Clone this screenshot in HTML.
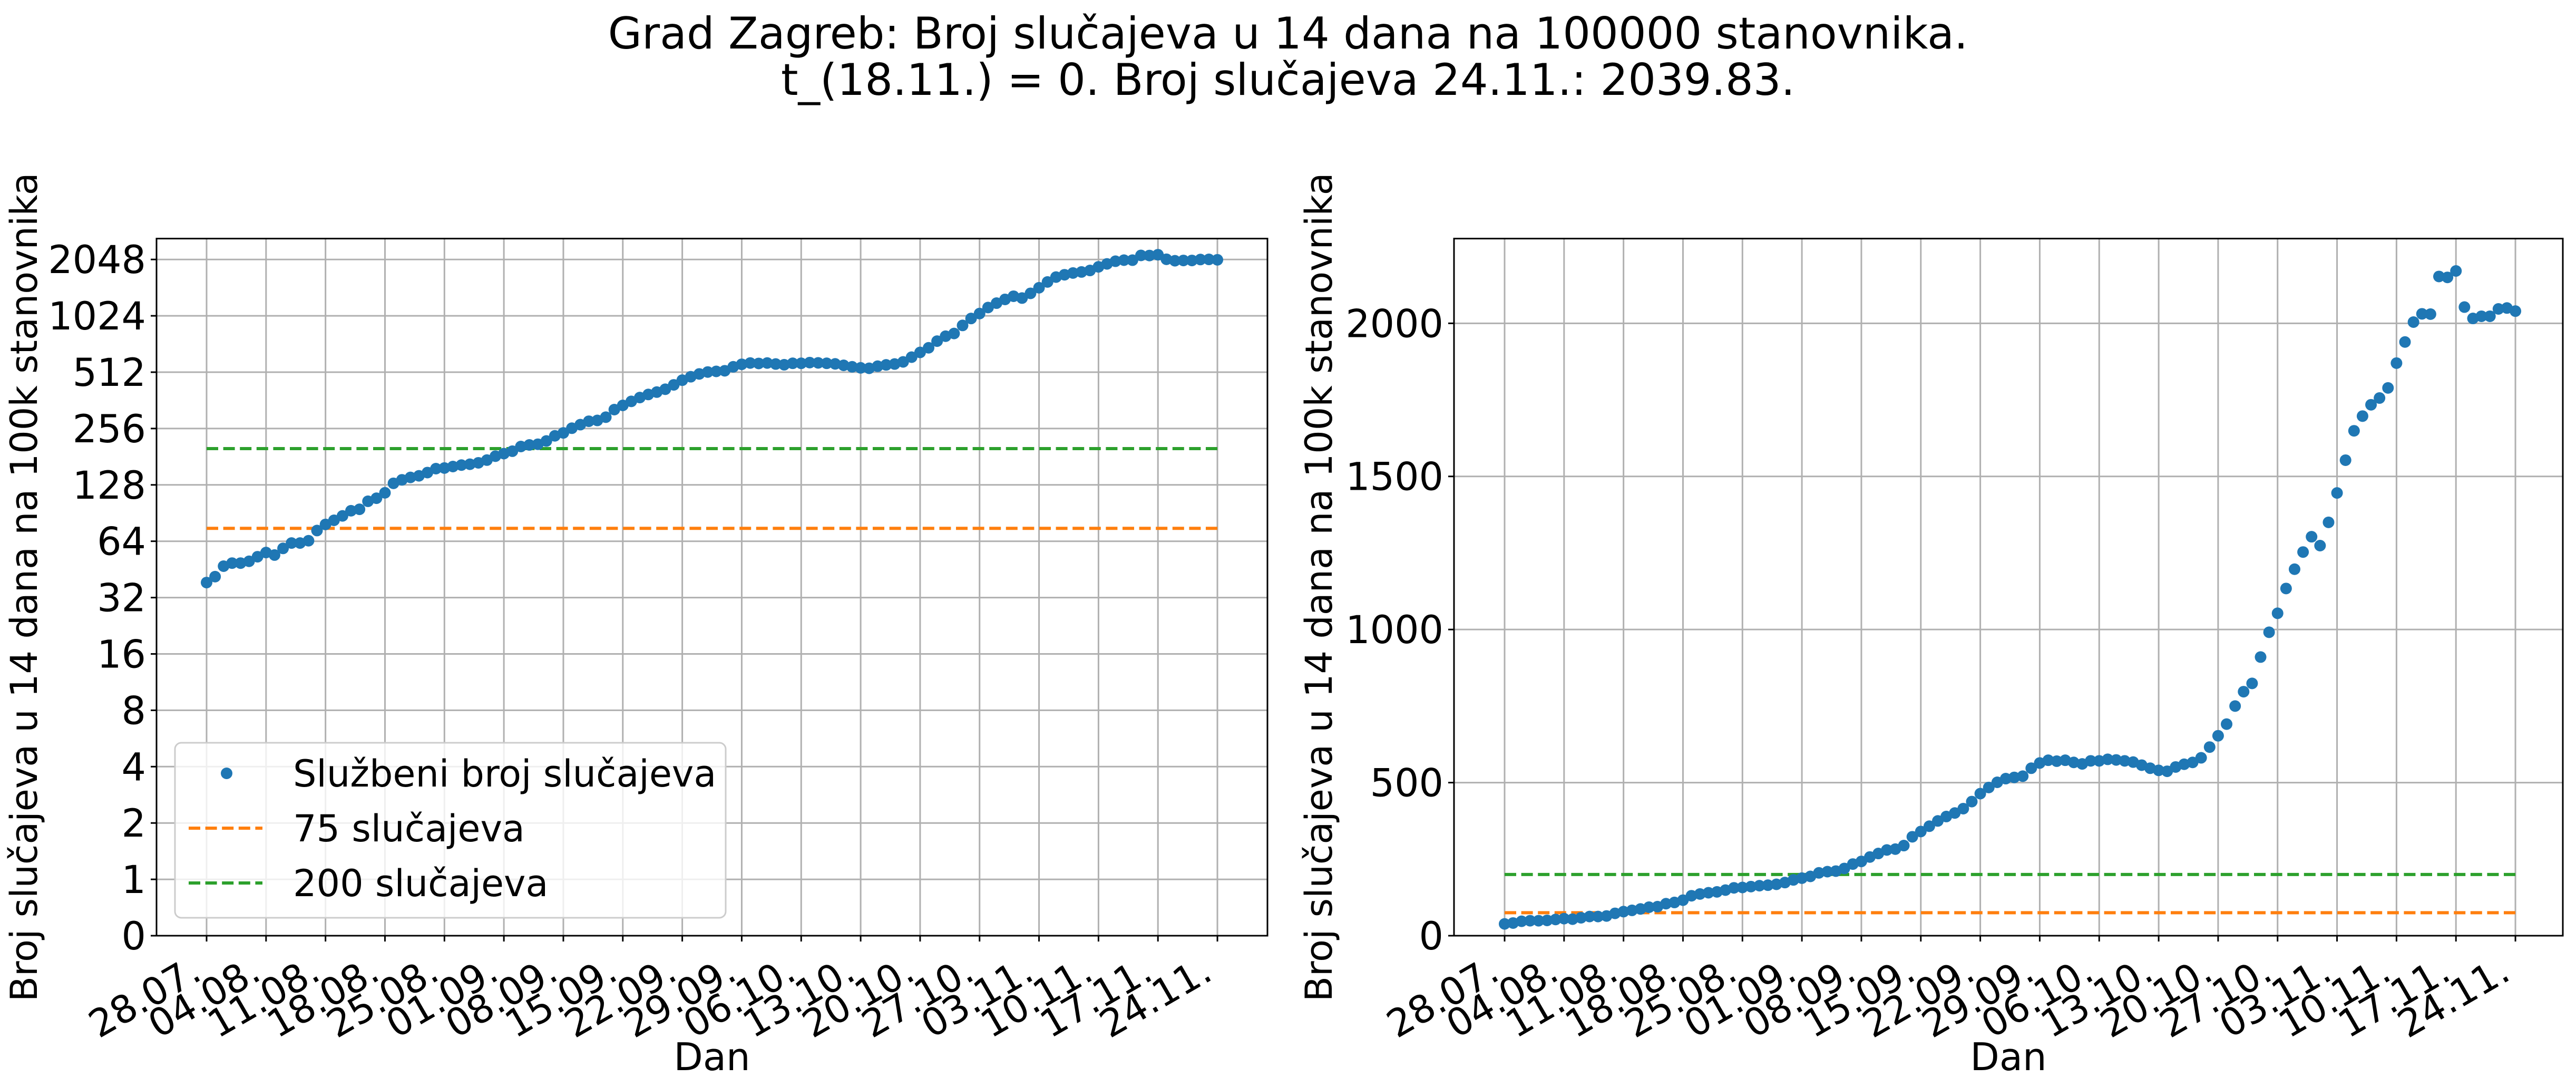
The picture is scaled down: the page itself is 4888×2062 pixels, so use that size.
<!DOCTYPE html>
<html><head><meta charset="utf-8"><style>
html,body{margin:0;padding:0;background:#fff;}
svg{display:block;font-family:"DejaVu Sans","Liberation Sans",sans-serif;}
</style></head><body>
<svg id="fig" width="4888" height="2062" viewBox="0 0 4888 2062" xmlns="http://www.w3.org/2000/svg">
<rect width="4888" height="2062" fill="#fff"/>
<text x="2444" y="92" font-size="83" text-anchor="middle">Grad Zagreb: Broj slučajeva u 14 dana na 100000 stanovnika.</text>
<text x="2444" y="180" font-size="83" text-anchor="middle">t_(18.11.) = 0. Broj slučajeva 24.11.: 2039.83.</text>
<g id="left"></g>
<g id="right"></g>
</svg>
<script>
const dayLabels = ["28.07.","04.08.","11.08.","18.08.","25.08.","01.09.","08.09.","15.09.","22.09.","29.09.","06.10.","13.10.","20.10.","27.10.","03.11.","10.11.","17.11.","24.11."];
const cases = [38.5,41.4,47.1,48.9,48.9,50.0,52.9,55.7,54.0,58.6,62.6,62.6,64.4,73.0,78.7,82.8,87.4,93.1,94.8,104.6,108.6,116.1,130.5,136.2,140.3,143.1,148.9,156.3,157.5,160.4,163.3,165.0,167.9,173.6,182.2,188.0,193.7,205.2,209.2,211.0,219.6,234.0,242.6,257.0,268.5,280.0,282.8,294.3,323.1,340.3,357.6,374.8,389.2,400.7,415.0,438.0,464,484,501,513,517,521,547,564,573,570,573,566,561,571,571,576,574,571,567,557,547,540,537,551,560,566,581,616,653,691,750,797,824,910,991,1053,1134,1197,1253,1303,1274,1350,1446,1553,1649,1697,1734,1756,1789,1870,1939,2004,2031,2030,2153,2150,2171,2053,2016,2023,2023,2047,2050,2039.83];
const thresholds = [75, 200];
const logTicks = [0,1,2,4,8,16,32,64,128,256,512,1024,2048];
const linTicks = [0,500,1000,1500,2000];

const NS = "http://www.w3.org/2000/svg";
const TOP = 452.6, BOT = 1775;
function mk(parent, tag, attrs, text){
  const e = document.createElementNS(NS, tag);
  for (const k in attrs) e.setAttribute(k, attrs[k]);
  if (text !== undefined) e.textContent = text;
  parent.appendChild(e);
  return e;
}
function symlog2(v){ return v <= 1 ? v : Math.log2(v) + 1; }

function drawPanel(g, L, R, x0, yfn, ticks, tickText, labelX){
  const xs = d => x0 + d * 16.118;
  dayLabels.forEach((lab, i) => {
    const gl = mk(g, "line", {x1: xs(i*7), x2: xs(i*7), y1: TOP, y2: BOT, stroke: "#b0b0b0", "stroke-width": 3});
    
    
  });
  ticks.forEach(t => {
    const y = yfn(t);
    const gl = mk(g, "line", {x1: L, x2: R, y1: y, y2: y, stroke: "#b0b0b0", "stroke-width": 3});
    
    
    const tk = mk(g, "line", {x1: L - 11, x2: L, y1: y, y2: y, stroke: "#000", "stroke-width": 3});
    
    
    const tl = mk(g, "text", {x: L - 20, y: y + 26, "font-size": 73, "text-anchor": "end"}, tickText(t));
    
    
  });
  const colors = ["#ff7f0e", "#2ca02c"];
  thresholds.forEach((v, i) => {
    const y = yfn(v);
    const tl = mk(g, "line", {x1: xs(0), x2: xs(cases.length - 1), y1: y, y2: y, stroke: colors[i], "stroke-width": 6, "stroke-dasharray": "22 9.6"});
    
    
  });
  cases.forEach((v, i) => {
    const c = mk(g, "circle", {cx: xs(i), cy: yfn(v), r: 11, fill: "#1f77b4"});
    
    
  });
  const sp = mk(g, "rect", {x: L, y: TOP, width: R - L, height: BOT - TOP, fill: "none", stroke: "#000", "stroke-width": 3});
  
  
  dayLabels.forEach((lab, i) => {
    const x = xs(i*7);
    const tk = mk(g, "line", {x1: x, x2: x, y1: BOT, y2: BOT + 11, stroke: "#000", "stroke-width": 3});
    
    
    const ex = x - 6, ey = 1856;
    const t = mk(g, "text", {x: ex, y: ey, "font-size": 72, "text-anchor": "end", transform: "rotate(-30 " + ex + " " + ey + ")"}, lab);
    
    
  });
  const xl = mk(g, "text", {x: (L + R) / 2, y: 2030, "font-size": 72, "text-anchor": "middle"}, "Dan");
  
  
  const cy = (TOP + BOT) / 2;
  const yl = mk(g, "text", {x: labelX, y: cy, "font-size": 70, "text-anchor": "middle", transform: "rotate(-90 " + labelX + " " + cy + ")"}, "Broj slučajeva u 14 dana na 100k stanovnika");
  
  
}

const leftG = document.getElementById("left");
const yLog = v => BOT - symlog2(v) * 106.9;
drawPanel(leftG, 297, 2405, 392, yLog, logTicks, t => String(t), 70);

const rightG = document.getElementById("right");
const yLin = v => BOT - v * 0.58084;
drawPanel(rightG, 2759, 4863, 2855, yLin, linTicks, t => String(t), 2527);

const lg = mk(leftG, "g", {});


const lbox = mk(lg, "rect", {x: 332, y: 1409, width: 1045, height: 332, rx: 12, fill: "#fff", "fill-opacity": 0.8, stroke: "#cccccc", "stroke-width": 3});


const ld = mk(lg, "circle", {cx: 430, cy: 1467, r: 11, fill: "#1f77b4"});


const lt1 = mk(lg, "text", {x: 556, y: 1492, "font-size": 70}, "Službeni broj slučajeva");


const ll2 = mk(lg, "line", {x1: 358, x2: 498, y1: 1571, y2: 1571, stroke: "#ff7f0e", "stroke-width": 6, "stroke-dasharray": "22 9.6"});


const lt2 = mk(lg, "text", {x: 556, y: 1596, "font-size": 70}, "75 slučajeva");


const ll3 = mk(lg, "line", {x1: 358, x2: 498, y1: 1675, y2: 1675, stroke: "#2ca02c", "stroke-width": 6, "stroke-dasharray": "22 9.6"});


const lt3 = mk(lg, "text", {x: 556, y: 1700, "font-size": 70}, "200 slučajeva");


</script>
</body></html>
